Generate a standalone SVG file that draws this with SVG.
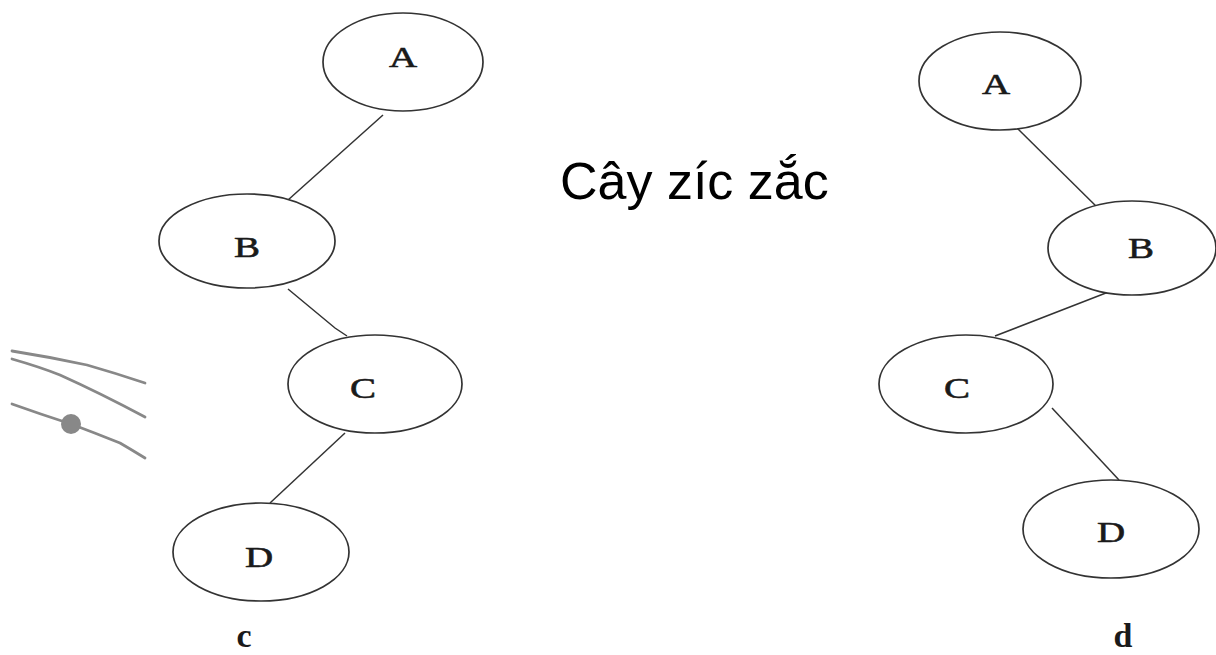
<svg xmlns="http://www.w3.org/2000/svg" width="1216" height="655" viewBox="0 0 1216 655">
<style>
.node ellipse{fill:#fff;stroke:#333;stroke-width:1.7}
.node text{font-family:"Liberation Serif","DejaVu Serif",serif;font-size:30px;fill:#1a1a1a;stroke:#1a1a1a;stroke-width:0.6;text-anchor:middle}
.edge{stroke:#333;stroke-width:1.5;fill:none}
.scrib{stroke:#888;stroke-width:2.8;fill:none;stroke-linecap:round;stroke-linejoin:round}
.cap{font-family:"Liberation Serif","DejaVu Serif",serif;font-size:34px;font-weight:bold;fill:#1a1a1a;text-anchor:middle}
</style>
<rect width="1216" height="655" fill="#fff"/>
<g id="connectors">
<line class="edge" x1="383" y1="115" x2="288" y2="200"/>
<polyline class="edge" points="288,289 335,328 347,336"/>
<line class="edge" x1="345" y1="433" x2="270" y2="503"/>
<line class="edge" x1="1017" y1="128" x2="1102" y2="212"/>
<polyline class="edge" points="1118,289 1111,291 995,336"/>
<line class="edge" x1="1052" y1="408" x2="1119" y2="480"/>
</g>
<g id="nodeA_left" class="node"><ellipse cx="403" cy="62" rx="80" ry="49"/><text transform="translate(403,67) scale(1.3,1)">A</text></g>
<g id="nodeB_left" class="node"><ellipse cx="247" cy="241" rx="88" ry="47"/><text transform="translate(247,257) scale(1.3,1)">B</text></g>
<g id="nodeC_left" class="node"><ellipse cx="375" cy="384" rx="87" ry="49"/><text transform="translate(363,398) scale(1.3,1)">C</text></g>
<g id="nodeD_left" class="node"><ellipse cx="261" cy="552" rx="88" ry="49"/><text transform="translate(259,567) scale(1.3,1)">D</text></g>
<g id="nodeA_right" class="node"><ellipse cx="1000" cy="81" rx="81" ry="49"/><text transform="translate(996,94) scale(1.3,1)">A</text></g>
<g id="nodeB_right" class="node"><ellipse cx="1132" cy="248" rx="84" ry="47"/><text transform="translate(1141,258) scale(1.3,1)">B</text></g>
<g id="nodeC_right" class="node"><ellipse cx="966" cy="384" rx="87" ry="49"/><text transform="translate(957,398) scale(1.3,1)">C</text></g>
<g id="nodeD_right" class="node"><ellipse cx="1111" cy="529" rx="88" ry="49"/><text transform="translate(1111,542) scale(1.3,1)">D</text></g>
<text id="label_c" class="cap" x="244" y="647">c</text>
<text id="label_d" class="cap" x="1123" y="647">d</text>
<text id="title" x="560" y="199" font-family="Liberation Sans, Arial, sans-serif" font-size="52" fill="#000">Cây zíc zắc</text>
<g id="scribbles">
<path class="scrib" d="M12,351 Q50,357 87,365 Q115,373 145,383"/>
<path class="scrib" d="M12,359 Q40,367 60,375 Q100,393 145,417"/>
<path class="scrib" d="M12,404 Q40,414 71,424 Q95,433 120,443 Q132,450 145,458"/>
<circle cx="71" cy="424" r="10" fill="#888"/>
</g>
</svg>
